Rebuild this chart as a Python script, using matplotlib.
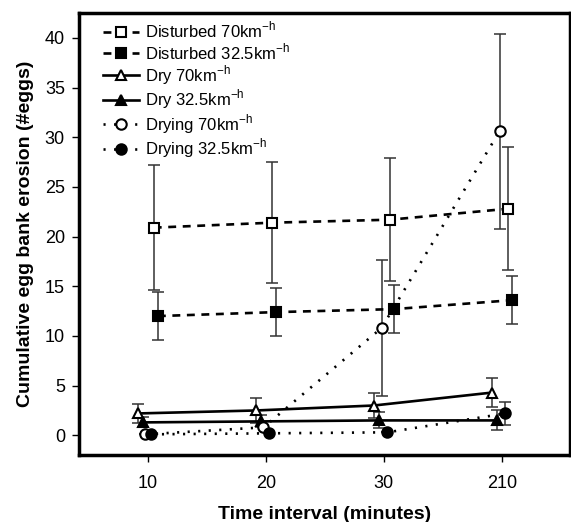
import matplotlib.pyplot as plt
import numpy as np

plt.rcParams['font.family'] = ['Liberation Sans', 'DejaVu Sans']
plt.rcParams['mathtext.fontset'] = 'custom'
plt.rcParams['mathtext.rm'] = 'Liberation Sans'

intervals = ["10", "20", "30", "210"]

labels = [
    "Disturbed 70km",
    "Disturbed 32.5km",
    "Dry 70km",
    "Dry 32.5km",
    "Drying 70km",
    "Drying 32.5km",
]
means = [
    [20.9, 21.4, 21.7, 22.8],
    [12.0, 12.4, 12.7, 13.6],
    [2.2, 2.5, 3.0, 4.3],
    [1.3, 1.4, 1.5, 1.5],
    [0.1, 0.8, 10.8, 30.6],
    [0.1, 0.2, 0.3, 2.2],
]
errors = [
    [6.3, 6.1, 6.2, 6.2],
    [2.4, 2.4, 2.4, 2.4],
    [1.0, 1.3, 1.3, 1.5],
    [0.5, 0.6, 0.8, 1.0],
    [0.0, 0.0, 6.8, 9.8],
    [0.0, 0.0, 0.0, 1.2],
]

offsets = [0.05, 0.085, -0.085, -0.04, -0.02, 0.03]
linestyles = [(0, (3, 2.5)), (0, (3, 2.5)), "-", "-", (0, (0.8, 3.2)), (0, (0.8, 3.2))]
markers = ["s", "s", "^", "^", "o", "o"]
facecolors = ["white", "black", "white", "black", "white", "black"]

fig = plt.figure(figsize=(5.71, 5.22), dpi=100)
ax = fig.add_axes([0.138, 0.128, 0.860, 0.847])

x = np.arange(len(intervals))
for i in range(len(labels)):
    xi = x + offsets[i]
    ax.errorbar(xi, means[i], yerr=errors[i], fmt="none", ecolor="#333333",
                elinewidth=1.1, capsize=4, capthick=1.1, zorder=2)
    ax.plot(xi, means[i], linestyle=linestyles[i], color="black", linewidth=1.9,
            marker=markers[i], markersize=7.5, markerfacecolor=facecolors[i],
            markeredgecolor="black", markeredgewidth=1.5,
            label=labels[i] + r"$^{\mathregular{-h}}$", zorder=3)

ax.set_xlim(-0.585, 3.576)
ax.set_ylim(-2.0, 42.5)
ax.set_xticks(x)
ax.set_xticklabels(intervals)
ax.set_yticks(np.arange(0, 41, 5))
ax.tick_params(direction="out", length=5, width=1, labelsize=13)
ax.tick_params(axis="x", pad=9)
ax.tick_params(axis="y", pad=5)

for side in ["left", "right", "top", "bottom"]:
    ax.spines[side].set_linewidth(2.5)

ax.set_xlabel("Time interval (minutes)", fontsize=14, fontweight="bold", labelpad=10)
ax.set_ylabel("Cumulative egg bank erosion (#eggs)", fontsize=14, fontweight="bold", labelpad=8)

ax.legend(loc="upper left", frameon=False, fontsize=12, handlelength=2.2,
          handletextpad=0.35, labelspacing=0.05, borderaxespad=0.3,
          bbox_to_anchor=(0.025, 1.01))

fig.savefig("out.png", dpi=100)
